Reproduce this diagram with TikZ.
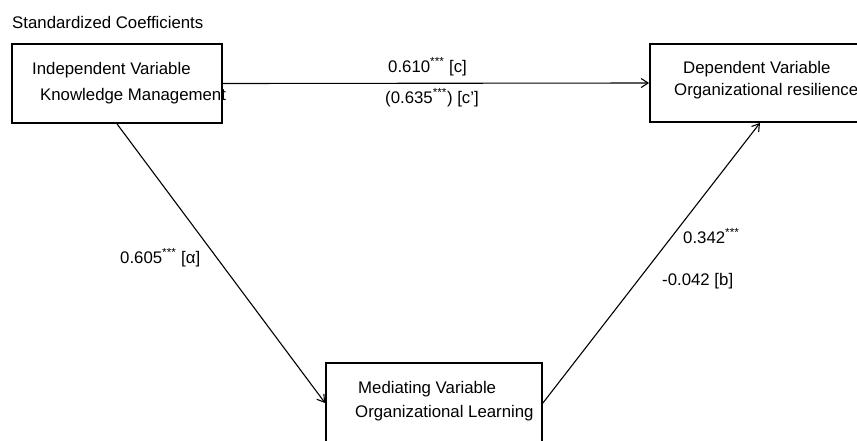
\documentclass[tikz,border=0pt]{standalone}
\usepackage{fontspec}
\setmainfont{Liberation Sans}
\usetikzlibrary{arrows.meta}
\begin{document}
\begin{tikzpicture}[x=1pt,y=-1pt,
  box/.style={draw=black,line width=1.8pt,minimum width=#1,inner sep=0pt},
  txt/.style={anchor=base west,inner sep=0pt,font=\fontsize{16.8}{20}\selectfont},
  conn/.style={draw=black,line width=1.1pt,-{Straight Barb[length=7pt,width=9pt,line width=1.1pt]}}]
\useasboundingbox (0,0) rectangle (857,440);
\fill[white] (0,0) rectangle (857,440);
% boxes
\node[box=210pt,minimum height=79pt] (iv) at (117,83.5) {};
\node[box=220pt,minimum height=78pt] (dv) at (760,83) {};
\node[box=216pt,minimum height=80pt] (mv) at (434,403) {};
% texts
\node[txt] (title) at (12,28) {Standardized Coefficients};
\node[txt] (iv1) at (32,74) {Independent Variable};
\node[txt] (iv2) at (40,100) {Knowledge Management};
\node[txt] (dv1) at (683,73) {Dependent Variable};
\node[txt] (dv2) at (674,95) {Organizational resilience};
\node[txt] (mv1) at (358,393) {Mediating Variable};
\node[txt] (mv2) at (355,417) {Organizational Learning};
% labels
\node[txt] (lc) at (388,72) {0.610\textsuperscript{***} [c]};
\node[txt] (lcp) at (385,103) {(0.635\textsuperscript{***}) [c']};
\node[txt] (la) at (120,263) {0.605\textsuperscript{***} [α]};
\node[txt] (lb1) at (683,243) {0.342\textsuperscript{***}};
\node[txt] (lb2) at (662,285) {-0.042 [b]};
% connectors
\draw[conn] (iv.east) -- (dv.west);
\draw[conn] (iv.south) -- (mv.west);
\draw[conn] (mv.east) -- (dv.south);
\end{tikzpicture}
\end{document}
